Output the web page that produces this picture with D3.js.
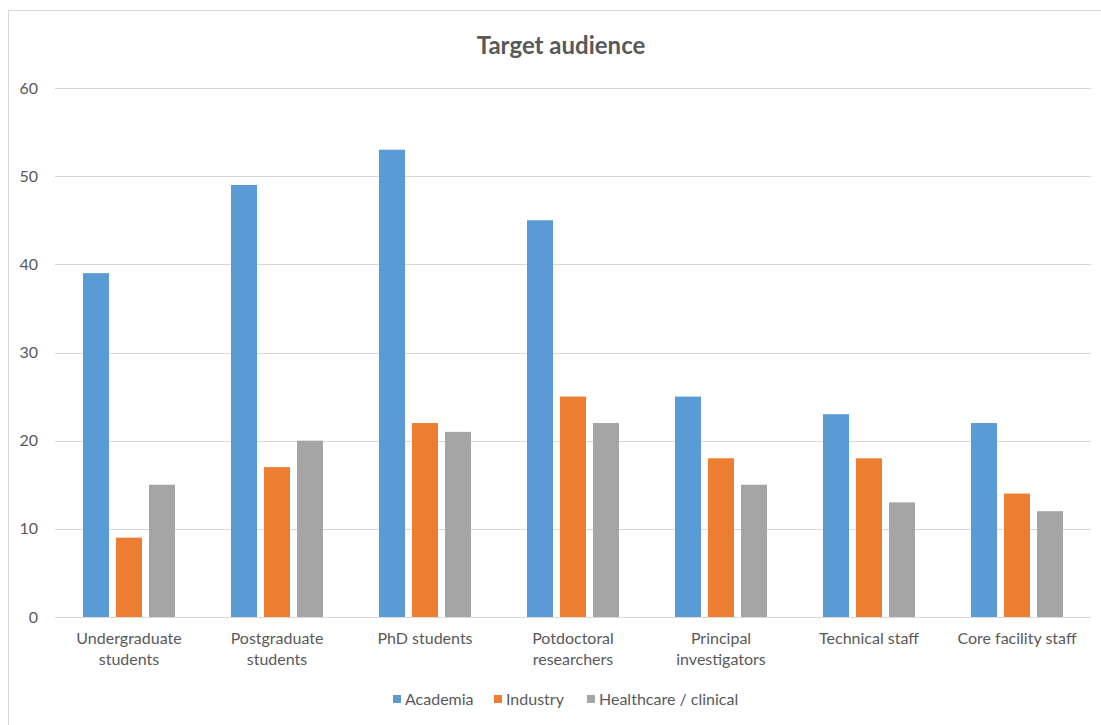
<!DOCTYPE html>
<html>
<head>
<meta charset="utf-8">
<script src="https://cdn.jsdelivr.net/npm/d3@7"></script>
<style>
  body { margin: 0; background: #fff; }
  text { font-family: Lato, "Open Sans", sans-serif; fill: #595959; }
</style>
</head>
<body>
<div id="chart-area"></div>
<script>
// Data
const categories = ["Undergraduate students", "Postgraduate students", "PhD students",
    "Potdoctoral researchers", "Principal investigators", "Technical staff", "Core facility staff"];
const series = ["Academia", "Industry", "Healthcare / clinical"];
const academia = [39, 49, 53, 45, 25, 23, 22];
const industry = [9, 17, 22, 25, 18, 18, 14];
const healthcare = [15, 20, 21, 22, 15, 13, 12];
const yTicks = [0, 10, 20, 30, 40, 50, 60];
const colors = ["#5b9bd5", "#ed7d31", "#a5a5a5"];

const values = [academia, industry, healthcare];
const rows = categories.map((c, i) => ({cat: c, vals: series.map((s, j) => ({key: s, value: values[j][i]}))}));

const W = 1101, H = 725;
const margin = {top: 88, right: 10, bottom: 108, left: 55};
const width = 1091 - margin.left;
const height = 617 - margin.top;

const svg = d3.select("#chart-area").append("svg")
    .attr("width", W)
    .attr("height", H);

// outer chart border
svg.append("rect")
    .attr("x", 8.5).attr("y", 10.5)
    .attr("width", W + 20).attr("height", H + 20)
    .attr("fill", "none")
    .attr("stroke", "#d9d9d9");

const g = svg.append("g")
    .attr("transform", "translate(" + margin.left + "," + margin.top + ")");

const x0 = d3.scaleBand().domain(categories).range([0, width]).padding(0);
const step = x0.step();
const x1 = d3.scaleBand().domain(series)
    .range([step * 28 / 148, step * 120 / 148])
    .paddingInner(7 / 33).paddingOuter(0);
const y = d3.scaleLinear().domain([0, 60]).range([height, 0]);
const color = d3.scaleOrdinal().domain(series).range(colors);

// gridlines
g.selectAll(".grid")
    .data(yTicks)
    .enter().append("line")
    .attr("class", "grid")
    .attr("x1", 0).attr("x2", width)
    .attr("y1", d => Math.round(y(d)) + 0.5)
    .attr("y2", d => Math.round(y(d)) + 0.5)
    .attr("stroke", "#d9d9d9")
    .attr("stroke-width", 1);

// y labels
g.selectAll(".y-label")
    .data(yTicks)
    .enter().append("text")
    .attr("class", "y-label")
    .attr("x", -17)
    .attr("y", d => y(d))
    .attr("dy", "0.35em")
    .attr("text-anchor", "end")
    .style("font-size", "16px")
    .text(d => d);

// bars
const groups = g.selectAll(".cat")
    .data(rows)
    .enter().append("g")
    .attr("class", "cat")
    .attr("transform", d => "translate(" + x0(d.cat) + ",0)");

groups.selectAll("rect")
    .data(d => d.vals)
    .enter().append("rect")
    .attr("x", d => x1(d.key))
    .attr("width", x1.bandwidth())
    .attr("y", d => y(d.value))
    .attr("height", d => height - y(d.value))
    .attr("fill", d => color(d.key));

// axis baseline on top of bars
g.append("line")
    .attr("x1", 0).attr("x2", width)
    .attr("y1", height + 0.5).attr("y2", height + 0.5)
    .attr("stroke", "#d9d9d9");

// category labels, wrapped like the original
const labelLines = {
    "Undergraduate students": ["Undergraduate", "students"],
    "Postgraduate students": ["Postgraduate", "students"],
    "PhD students": ["PhD students"],
    "Potdoctoral researchers": ["Potdoctoral", "researchers"],
    "Principal investigators": ["Principal", "investigators"],
    "Technical staff": ["Technical staff"],
    "Core facility staff": ["Core facility staff"]
};
const xl = g.selectAll(".x-label")
    .data(categories)
    .enter().append("text")
    .attr("class", "x-label")
    .attr("text-anchor", "middle")
    .attr("transform", d => "translate(" + (x0(d) + step / 2) + "," + (height + 27) + ")")
    .style("font-size", "16px");
xl.selectAll("tspan")
    .data(d => labelLines[d])
    .enter().append("tspan")
    .attr("x", 0)
    .attr("dy", (d, i) => i === 0 ? 0 : 21)
    .text(d => d);

// title
svg.append("text")
    .attr("x", 561)
    .attr("y", 54)
    .attr("text-anchor", "middle")
    .style("font-size", "24px")
    .style("font-weight", "bold")
    .text("Target audience");

// legend
const legendX = [393, 494, 587];
const legend = svg.selectAll(".legend")
    .data(series)
    .enter().append("g")
    .attr("class", "legend")
    .attr("transform", (d, i) => "translate(" + legendX[i] + ",695)");
legend.append("rect")
    .attr("width", 8).attr("height", 8)
    .attr("fill", d => color(d));
legend.append("text")
    .attr("x", 12).attr("y", 4)
    .attr("dy", "0.35em")
    .style("font-size", "16px")
    .text(d => d);
</script>
</body>
</html>
